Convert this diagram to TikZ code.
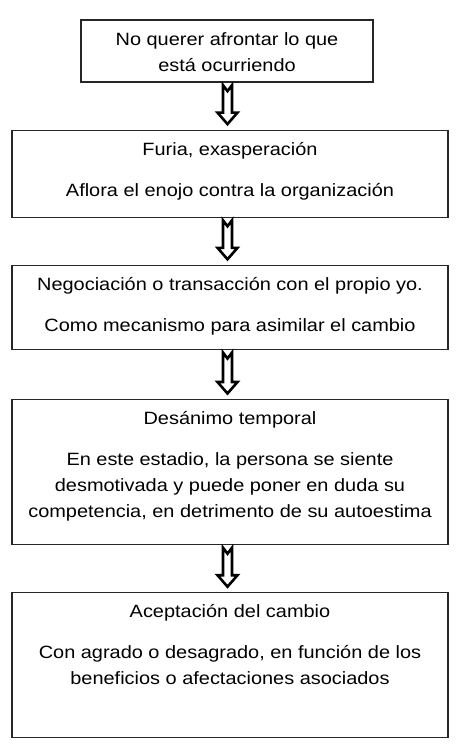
\documentclass[tikz,border=0pt]{standalone}
\usepackage{fontspec}
\setmainfont{Liberation Sans}[FakeStretch=1.12]
\usepackage{tikz}
\usetikzlibrary{positioning, calc}

\tikzset{
  caja/.style={draw=black!85, line width=1.2pt, minimum width=436pt, inner sep=0pt},
  texto/.style={align=center, inner sep=0pt, font=\fontsize{17.8pt}{26pt}\selectfont},
  flecha/.style={draw=black, fill=white, line width=2.6pt, line join=miter}
}
% flecha hueca con cola en V entre dos cajas
\newcommand{\flecha}[2]{%
  \draw[flecha] let \p1=(#1.south), \p2=(#2.north) in
    (\x2-7pt,\y1-2.5pt) -- (\x2-2.5pt,\y1-8.5pt) -- (\x2+2pt,\y1-2.5pt)
    -- (\x2+2pt,\y2+17pt) -- (\x2+7.5pt,\y2+17pt) -- (\x2-2.5pt,\y2+5.5pt)
    -- (\x2-12.5pt,\y2+17pt) -- (\x2-7pt,\y2+17pt) -- cycle;}

\begin{document}
\begin{tikzpicture}
  \useasboundingbox (0,0) rectangle (462pt,-750pt);
  \node[caja, minimum width=292pt, minimum height=62pt] (negacion) at (227pt,-51pt) {};
  \node[caja, below=47pt of negacion, xshift=3pt, minimum height=87pt] (furia) {};
  \node[caja, below=47pt of furia, minimum height=84pt] (negociacion) {};
  \node[caja, below=49pt of negociacion, minimum height=145pt] (desanimo) {};
  \node[caja, below=47pt of desanimo, minimum height=145pt] (aceptacion) {};

  \node[texto, below=6.5pt of negacion.north] (t1) {\rule{0pt}{19pt}No querer afrontar lo que\\está ocurriendo};
  \node[texto, below=6.5pt of furia.north] (t2) {\rule{0pt}{19pt}Furia, exasperación\\[15pt]Aflora el enojo contra la organización};
  \node[texto, below=6.5pt of negociacion.north] (t3) {\rule{0pt}{19pt}Negociación o transacción con el propio yo.\\[15pt]Como mecanismo para asimilar el cambio};
  \node[texto, below=6.5pt of desanimo.north] (t4) {\rule{0pt}{19pt}Desánimo temporal\\[15pt]En este estadio, la persona se siente\\desmotivada y puede poner en duda su\\competencia, en detrimento de su autoestima};
  \node[texto, below=6.5pt of aceptacion.north] (t5) {\rule{0pt}{19pt}Aceptación del cambio\\[15pt]Con agrado o desagrado, en función de los\\beneficios o afectaciones asociados};

  \flecha{negacion}{furia}
  \flecha{furia}{negociacion}
  \flecha{negociacion}{desanimo}
  \flecha{desanimo}{aceptacion}
\end{tikzpicture}
\end{document}
